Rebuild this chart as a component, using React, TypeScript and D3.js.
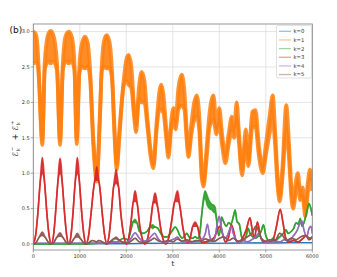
import React from "react";
import * as d3 from "d3";

// ---- data: [t, upper, lower] (lower omitted => same as upper) ----
const xTicks = [0, 1000, 2000, 3000, 4000, 5000, 6000];
const yTicks = [0.0, 0.5, 1.0, 1.5, 2.0, 2.5, 3.0];
const labels = ["k=0", "k=1", "k=2", "k=3", "k=4", "k=5"];
const colors = ["#1f77b4", "#ff7f0e", "#2ca02c", "#d62728", "#9467bd", "#8c564b"];

const k0: number[][] = [
  [0, 0.0], [500, 0.003], [1000, 0.005], [1500, 0.004], [2000, 0.006], [2500, 0.008],
  [3000, 0.01], [3500, 0.012], [4000, 0.01], [4500, 0.014], [5000, 0.015], [5500, 0.018], [6000, 0.02],
];

const k1: number[][] = [
  [0, 3.0, 2.55], [50, 2.97, 2.56], [90, 2.8, 2.55], [115, 2.5, 2.38], [194, 1.47, 1.4],
  [245, 2.55, 2.45], [285, 2.85, 2.55], [330, 2.98, 2.58], [374, 3.01, 2.55], [420, 2.97, 2.58],
  [465, 2.85, 2.55], [510, 2.55, 2.45], [575, 1.47, 1.4],
  [635, 2.55, 2.45], [670, 2.85, 2.55], [715, 2.97, 2.58], [762, 3.0, 2.55], [810, 2.96, 2.58],
  [850, 2.85, 2.55], [885, 2.55, 2.45], [934, 1.48, 1.41],
  [990, 2.5, 2.4], [1040, 2.82, 2.5], [1113, 2.93, 2.48], [1175, 2.82, 2.5], [1220, 2.48, 2.35],
  [1290, 1.5, 1.4], [1364, 0.97, 0.88], [1430, 1.8, 1.7], [1475, 2.55, 2.45], [1525, 2.88, 2.5],
  [1580, 2.95, 2.48], [1640, 2.85, 2.48], [1690, 2.48, 2.35], [1745, 1.65, 1.55], [1795, 1.13, 1.05],
  [1850, 1.6, 1.5], [1950, 2.35, 2.25], [2000, 2.6, 2.3], [2050, 2.67, 2.25], [2110, 2.5, 2.2],
  [2160, 2.0, 1.85], [2211, 1.68, 1.58], [2270, 2.2, 2.05], [2330, 2.43, 2.0], [2390, 2.3, 2.0],
  [2450, 1.8, 1.68], [2520, 1.35, 1.25], [2583, 1.14, 1.07], [2650, 1.7, 1.6], [2710, 2.15, 1.9],
  [2750, 2.25, 1.89], [2800, 2.1, 1.85], [2850, 1.7, 1.55], [2906, 1.3, 1.22], [2960, 1.7, 1.6],
  [3014, 1.92, 1.75], [3060, 1.75, 1.62], [3120, 2.2, 1.9], [3194, 2.39, 1.95], [3250, 2.15, 1.9],
  [3300, 1.6, 1.45], [3337, 1.32, 1.23], [3400, 1.7, 1.55], [3460, 2.0, 1.75], [3517, 2.1, 1.8],
  [3570, 1.8, 1.6], [3620, 1.1, 0.95], [3660, 0.88, 0.81], [3720, 1.3, 1.15], [3790, 1.85, 1.65],
  [3875, 2.1, 1.75], [3940, 1.65, 1.55], [4000, 1.92, 1.7], [4060, 1.55, 1.4], [4130, 1.25, 1.14],
  [4200, 1.55, 1.4], [4270, 1.8, 1.6], [4320, 1.65, 1.5], [4375, 2.0, 1.75], [4420, 1.6, 1.45],
  [4490, 1.06, 0.97], [4570, 1.62, 1.45], [4625, 1.2, 1.1], [4710, 1.87, 1.65], [4780, 1.89, 1.65],
  [4850, 1.4, 1.25], [4935, 1.1, 1.0], [5000, 1.4, 1.25], [5080, 1.8, 1.55], [5150, 2.1, 1.75],
  [5200, 1.6, 1.4], [5250, 1.0, 0.85], [5300, 0.68, 0.6], [5360, 1.1, 0.95], [5440, 1.96, 1.6],
  [5500, 1.4, 1.2], [5550, 0.8, 0.65], [5590, 0.58, 0.5], [5640, 0.85, 0.7], [5690, 1.0, 0.85],
  [5740, 0.75, 0.62], [5790, 0.8, 0.68], [5850, 0.5, 0.39], [5900, 0.85, 0.7], [5950, 1.05, 0.9],
  [6000, 0.9, 0.75],
];

const k2: number[][] = [
  [0, 0.0], [1200, 0.005], [1400, 0.01], [1600, 0.02], [1700, 0.04], [1780, 0.02], [1850, 0.05],
  [1950, 0.08], [2030, 0.06], [2100, 0.2], [2150, 0.32], [2190, 0.35, 0.3], [2230, 0.3], [2280, 0.18],
  [2350, 0.15], [2450, 0.18], [2520, 0.25], [2560, 0.27, 0.22], [2620, 0.24], [2680, 0.22], [2750, 0.14],
  [2820, 0.1], [2880, 0.1], [2950, 0.15], [3000, 0.2], [3050, 0.24], [3100, 0.2], [3150, 0.12],
  [3200, 0.08], [3260, 0.12], [3300, 0.15], [3350, 0.1], [3420, 0.08], [3480, 0.1], [3540, 0.08],
  [3580, 0.15], [3620, 0.4], [3660, 0.65, 0.6], [3695, 0.75, 0.65], [3740, 0.68, 0.55], [3790, 0.6, 0.5],
  [3840, 0.56, 0.48], [3880, 0.55, 0.45], [3910, 0.52, 0.44], [3950, 0.3], [3985, 0.12], [4020, 0.2],
  [4050, 0.38], [4090, 0.32], [4150, 0.25], [4200, 0.3], [4250, 0.28], [4300, 0.38], [4340, 0.48],
  [4380, 0.32], [4430, 0.28], [4480, 0.1], [4530, 0.05], [4580, 0.12], [4620, 0.22], [4660, 0.15],
  [4720, 0.1], [4780, 0.08], [4850, 0.12], [4900, 0.18], [4950, 0.27], [5000, 0.12], [5050, 0.05],
  [5100, 0.03], [5150, 0.08], [5200, 0.05], [5300, 0.1], [5380, 0.15], [5430, 0.2], [5480, 0.15],
  [5550, 0.18], [5600, 0.22], [5650, 0.3], [5700, 0.28], [5740, 0.36], [5780, 0.25], [5820, 0.3],
  [5880, 0.45], [5930, 0.57], [5970, 0.5], [6000, 0.4],
];

const k3: number[][] = [
  [0, 0.0], [50, 0.12], [100, 0.45], [145, 0.85], [175, 1.12, 0.98], [194, 1.22, 1.0], [215, 1.12, 0.98],
  [245, 0.85], [290, 0.45], [340, 0.12], [385, 0.0],
  [435, 0.12], [480, 0.45], [525, 0.85], [555, 1.12, 0.98], [575, 1.21, 1.0], [598, 1.12, 0.98],
  [625, 0.85], [670, 0.45], [718, 0.12], [765, 0.0],
  [810, 0.12], [855, 0.45], [898, 0.85], [928, 1.12, 0.98], [947, 1.22, 1.0], [968, 1.12, 0.98],
  [995, 0.85], [1040, 0.45], [1090, 0.12], [1135, 0.0],
  [1190, 0.12], [1245, 0.45], [1300, 0.8], [1340, 1.0, 0.9], [1365, 1.09, 0.9], [1390, 1.0, 0.9],
  [1430, 0.8], [1480, 0.45], [1535, 0.12], [1580, 0.0],
  [1630, 0.12], [1680, 0.45], [1725, 0.8], [1760, 0.98, 0.85], [1780, 1.05, 0.87], [1800, 0.98, 0.85],
  [1835, 0.8], [1880, 0.45], [1945, 0.12], [2000, 0.0],
  [2050, 0.08], [2100, 0.3], [2150, 0.6], [2175, 0.72, 0.6], [2190, 0.75, 0.6], [2210, 0.7, 0.6],
  [2240, 0.55], [2290, 0.25], [2350, 0.06], [2400, 0.0],
  [2460, 0.08], [2520, 0.3], [2580, 0.6], [2605, 0.7, 0.58], [2620, 0.72, 0.6], [2640, 0.68, 0.58],
  [2680, 0.5], [2740, 0.22], [2800, 0.05], [2850, 0.0],
  [2910, 0.08], [2970, 0.3], [3040, 0.6], [3080, 0.72, 0.6], [3100, 0.75, 0.6], [3120, 0.7, 0.6],
  [3160, 0.5], [3220, 0.22], [3280, 0.05], [3320, 0.02],
  [3380, 0.1], [3430, 0.25], [3480, 0.31, 0.25], [3530, 0.25], [3580, 0.1], [3630, 0.02],
  [3700, 0.03], [3800, 0.05], [3900, 0.1], [3970, 0.22], [4020, 0.25], [4080, 0.12], [4130, 0.03],
  [4200, 0.1], [4260, 0.27], [4300, 0.2], [4360, 0.05], [4430, 0.02], [4500, 0.08], [4580, 0.2],
  [4660, 0.37], [4720, 0.15], [4760, 0.1], [4820, 0.31], [4880, 0.12], [4950, 0.03], [5050, 0.02],
  [5150, 0.05], [5230, 0.25], [5310, 0.49], [5370, 0.3], [5430, 0.08], [5500, 0.03], [5600, 0.05],
  [5700, 0.03], [5800, 0.08], [5870, 0.12], [5930, 0.06], [6000, 0.1],
];

const k4: number[][] = [
  [0, 0.01], [1500, 0.01], [1700, 0.02], [1900, 0.03], [2000, 0.02], [2100, 0.08], [2190, 0.16],
  [2260, 0.1], [2350, 0.04], [2450, 0.05], [2550, 0.12], [2610, 0.15], [2680, 0.08], [2760, 0.03],
  [2850, 0.02], [2950, 0.05], [3050, 0.08], [3100, 0.1], [3150, 0.06], [3250, 0.03], [3350, 0.04],
  [3450, 0.03], [3550, 0.05], [3650, 0.08], [3700, 0.15], [3745, 0.28], [3790, 0.12], [3840, 0.04],
  [3900, 0.08], [3960, 0.3], [3997, 0.39], [4040, 0.25], [4100, 0.08], [4160, 0.1], [4220, 0.2],
  [4260, 0.25], [4300, 0.15], [4370, 0.05], [4450, 0.02], [4520, 0.05], [4600, 0.03], [4700, 0.06],
  [4780, 0.1], [4850, 0.15], [4900, 0.08], [4980, 0.03], [5100, 0.02], [5200, 0.04], [5300, 0.03],
  [5400, 0.06], [5500, 0.05], [5600, 0.12], [5680, 0.2], [5740, 0.3], [5780, 0.32], [5820, 0.2],
  [5880, 0.1], [5930, 0.22], [5970, 0.25], [6000, 0.15],
];

const k5: number[][] = [
  [0, 0.0], [60, 0.02], [120, 0.09], [194, 0.17, 0.12], [260, 0.09], [330, 0.02], [385, 0.0],
  [440, 0.02], [500, 0.09], [575, 0.16, 0.11], [640, 0.09], [710, 0.02], [765, 0.0],
  [820, 0.02], [880, 0.08], [947, 0.15, 0.1], [1010, 0.08], [1080, 0.02], [1135, 0.0],
  [1200, 0.02], [1270, 0.05], [1320, 0.04], [1365, 0.03], [1410, 0.05], [1460, 0.04], [1530, 0.01],
  [1580, 0.0], [1640, 0.02], [1720, 0.07], [1780, 0.1, 0.07], [1840, 0.06], [1930, 0.02], [2000, 0.01],
  [2100, 0.04], [2190, 0.08], [2280, 0.03], [2400, 0.02], [2520, 0.05], [2600, 0.08], [2700, 0.04],
  [2800, 0.03], [2900, 0.05], [3000, 0.03], [3100, 0.07], [3200, 0.04], [3300, 0.06], [3400, 0.03],
  [3500, 0.05], [3600, 0.04], [3700, 0.07], [3800, 0.05], [3900, 0.04], [4000, 0.08], [4100, 0.1],
  [4200, 0.05], [4300, 0.08], [4400, 0.04], [4500, 0.06], [4600, 0.1], [4700, 0.15], [4790, 0.25],
  [4850, 0.18], [4900, 0.08], [5000, 0.04], [5100, 0.06], [5200, 0.05], [5300, 0.15], [5360, 0.12],
  [5450, 0.05], [5550, 0.08], [5650, 0.06], [5750, 0.1], [5850, 0.12], [5950, 0.08], [6000, 0.1],
];

const seriesList = [k0, k1, k2, k3, k4, k5];
const strokeWidths = [1.2, 3.8, 1.6, 1.6, 1.5, 1.5];

// ---- layout ----
const W = 337;
const H = 277;
const L = 33.3, R = 312.3, T = 24, B = 250;

export default function App() {
  const x = d3.scaleLinear().domain([0, 6000]).range([L, R]);
  const y = d3.scaleLinear().domain([-0.085, 3.107]).range([B, T]);

  const lo = (d: number[]) => (d.length > 2 ? d[2] : d[1]);
  const area = d3
    .area<number[]>()
    .x((d) => x(d[0]))
    .y1((d) => y(d[1]))
    .y0((d) => y(lo(d)))
    .curve(d3.curveMonotoneX);
  const hiLine = d3
    .line<number[]>()
    .x((d) => x(d[0]))
    .y((d) => y(d[1]))
    .curve(d3.curveMonotoneX);
  const loLine = d3
    .line<number[]>()
    .x((d) => x(d[0]))
    .y((d) => y(lo(d)))
    .curve(d3.curveMonotoneX);

  const font = "DejaVu Sans, sans-serif";

  return (
    <svg
      width={W}
      height={H}
      style={{ position: "absolute", left: 0, top: 0, background: "#fff" }}
      fontFamily={font}
    >
      <defs>
        <clipPath id="plotclip">
          <rect x={L} y={T} width={R - L} height={B - T} />
        </clipPath>
      </defs>
      <rect x={0} y={0} width={W} height={H} fill="#fff" />

      {/* grid */}
      {xTicks.map((t) => (
        <line key={"gx" + t} x1={x(t)} x2={x(t)} y1={T} y2={B} stroke="#dedede" strokeWidth={0.8} />
      ))}
      {yTicks.map((v) => (
        <line key={"gy" + v} x1={L} x2={R} y1={y(v)} y2={y(v)} stroke="#dedede" strokeWidth={0.8} />
      ))}

      {/* series */}
      <g clipPath="url(#plotclip)">
        {seriesList.map((s, i) => (
          <g key={"s" + i}>
            <path d={area(s) || ""} fill={colors[i]} opacity={0.9} />
            <path d={hiLine(s) || ""} fill="none" stroke={colors[i]} strokeWidth={strokeWidths[i]} strokeOpacity={0.85} strokeLinejoin="round" />
            <path d={loLine(s) || ""} fill="none" stroke={colors[i]} strokeWidth={strokeWidths[i]} strokeOpacity={0.85} strokeLinejoin="round" />
          </g>
        ))}
      </g>

      {/* spines */}
      <rect x={L} y={T} width={R - L} height={B - T} fill="none" stroke="#7f7f7f" strokeWidth={0.8} />

      {/* ticks */}
      {xTicks.map((t) => (
        <g key={"tx" + t}>
          <line x1={x(t)} x2={x(t)} y1={B} y2={B + 2.5} stroke="#7f7f7f" strokeWidth={0.7} />
          <text x={x(t)} y={B + 8.2} fontSize={5} textAnchor="middle" fill="#333">
            {t}
          </text>
        </g>
      ))}
      {yTicks.map((v) => (
        <g key={"ty" + v}>
          <line x1={L - 2.5} x2={L} y1={y(v)} y2={y(v)} stroke="#7f7f7f" strokeWidth={0.7} />
          <text x={L - 3.5} y={y(v) + 1.8} fontSize={5} textAnchor="end" fill="#333">
            {v.toFixed(1)}
          </text>
        </g>
      ))}

      {/* axis labels */}
      <text x={(L + R) / 2} y={266} fontSize={7} textAnchor="middle" fill="#222">
        t
      </text>
      <g transform={`translate(17.5, ${(T + B) / 2}) rotate(-90)`} fill="#222">
        <text x={-19.5} y={0} fontSize={8}>ℰ</text>
        <text x={-14} y={-3.8} fontSize={5}>−</text>
        <text x={-14} y={2.2} fontSize={5}>k</text>
        <text x={0} y={0} fontSize={8} textAnchor="middle">+</text>
        <text x={6.5} y={0} fontSize={8}>ℰ</text>
        <text x={12} y={-3.8} fontSize={5}>+</text>
        <text x={12} y={2.2} fontSize={5}>k</text>
      </g>

      <text x={9.5} y={32.5} fontSize={9} fill="#111">
        (b)
      </text>

      {/* legend */}
      <rect x={276.5} y={25.5} width={35} height={52.5} rx={1.5} fill="#fff" fillOpacity={0.85} stroke="#cfcfcf" strokeWidth={0.6} />
      {labels.map((lab, i) => {
        const yy = 31.3 + i * 8.65;
        return (
          <g key={lab}>
            <line x1={279} x2={291} y1={yy} y2={yy} stroke={colors[i]} strokeWidth={1.3} strokeOpacity={0.45} />
            <text x={293.5} y={yy + 1.9} fontSize={5.3} fill="#333">
              {lab}
            </text>
          </g>
        );
      })}
    </svg>
  );
}
